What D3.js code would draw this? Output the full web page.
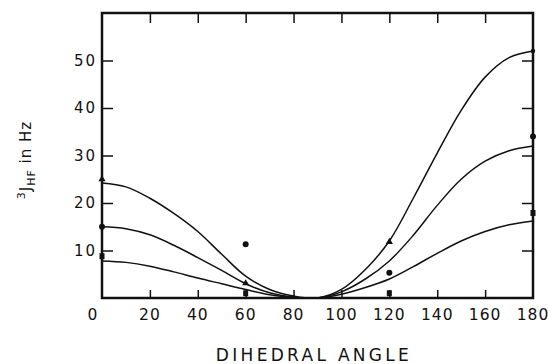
<!DOCTYPE html>
<html>
<head>
<meta charset="utf-8">
<script src="https://cdn.jsdelivr.net/npm/d3@7"></script>
<style>
  body { margin: 0; background: #fff; }
  text { font-family: "DejaVu Sans", sans-serif; fill: #111; }
</style>
</head>
<body>
<div id="chart"></div>
<script>
// angles the curves were read at
let angles = [0, 10, 20, 30, 40, 50, 60, 70, 80, 90, 100, 110, 120, 130, 140, 150, 160, 170, 180];

// three curves (Hz)
let curveTop    = [24.2, 23.4, 21.0, 17.8, 14.0, 9.2, 4.6, 1.8, 0.4, 0, 1.8, 6.0, 12.0, 21.0, 30.5, 39.5, 46.5, 50.6, 52.0];
let curveMiddle = [15.0, 14.6, 13.3, 11.1, 8.5, 5.8, 3.0, 1.1, 0.2, 0, 1.3, 4.0, 7.8, 13.2, 19.5, 25.0, 28.8, 31.0, 32.0];
let curveBottom = [7.8, 7.5, 6.7, 5.5, 4.2, 3.0, 1.8, 0.7, 0.15, 0, 0.8, 2.2, 4.0, 6.6, 9.4, 12.0, 14.0, 15.4, 16.2];

// measured points
let pointAngles = [0, 60, 120, 180];
let triangleVals = [25.0, 3.1, 11.8, 52.0];
let circleVals = [15.0, 11.3, 5.3, 34.0];
let squareVals = [8.8, 1.0, 1.0, 17.9];

let xTicks = [0, 20, 40, 60, 80, 100, 120, 140, 160, 180];
let yTicks = [10, 20, 30, 40, 50];

let svgWidth = 548;
let svgHeight = 364;
let margin = { top: 13, right: 15, bottom: 66, left: 102 };
let width = svgWidth - margin.left - margin.right;
let height = svgHeight - margin.top - margin.bottom;

let svg = d3.select("#chart").append("svg")
  .attr("width", svgWidth)
  .attr("height", svgHeight);

let g = svg.append("g")
  .attr("transform", `translate(${margin.left}, ${margin.top})`);

let x = d3.scaleLinear().domain([0, 180]).range([0, width]);
let y = d3.scaleLinear().domain([0, 60]).range([height, 0]);

// inner ticks on all four sides
let inner = xTicks.filter(d => d > 0 && d < 180);
g.append("g").call(d3.axisBottom(x).tickValues(inner).tickSize(-8).tickFormat(""))
  .attr("transform", `translate(0, ${height})`);
g.append("g").call(d3.axisTop(x).tickValues(inner).tickSize(-10).tickFormat(""));
g.append("g").call(d3.axisLeft(y).tickValues(yTicks).tickSize(-11).tickFormat(""));
g.append("g").call(d3.axisRight(y).tickValues(yTicks).tickSize(-11).tickFormat(""))
  .attr("transform", `translate(${width}, 0)`);
g.selectAll(".domain").remove();
g.selectAll(".tick line").attr("stroke", "#111").attr("stroke-width", 1.5);

// frame
g.append("rect")
  .attr("width", width)
  .attr("height", height)
  .attr("fill", "none")
  .attr("stroke", "#111")
  .attr("stroke-width", 2.5);

// tick labels
g.selectAll(".xlab")
  .data(xTicks)
  .enter().append("text")
  .attr("x", d => x(d) + (d === 0 ? -9 : 0))
  .attr("y", height + 22)
  .attr("text-anchor", "middle")
  .attr("font-size", "15.5px")
  .attr("letter-spacing", "1px")
  .text(d => d);

g.selectAll(".ylab")
  .data(yTicks)
  .enter().append("text")
  .attr("x", -5)
  .attr("y", d => y(d) + 5)
  .attr("text-anchor", "end")
  .attr("font-size", "15px")
  .attr("letter-spacing", "2px")
  .text(d => d);

// curves
let line = d3.line()
  .x((d, i) => x(angles[i]))
  .y(d => y(d))
  .curve(d3.curveCatmullRom.alpha(0.5));

[curveTop, curveMiddle, curveBottom].forEach(function(vals) {
  g.append("path")
    .datum(vals)
    .attr("d", line)
    .attr("fill", "none")
    .attr("stroke", "#111")
    .attr("stroke-width", 1.5);
});

// markers
g.selectAll(".tri")
  .data(triangleVals.slice(0, 3))
  .enter().append("path")
  .attr("d", d3.symbol(d3.symbolTriangle, 22))
  .attr("transform", (d, i) => `translate(${x(pointAngles[i])}, ${y(d)})`)
  .attr("fill", "#111");

g.append("circle")
  .attr("cx", x(pointAngles[3]))
  .attr("cy", y(triangleVals[3]))
  .attr("r", 2.2)
  .attr("fill", "#111");

g.selectAll(".dot")
  .data(circleVals)
  .enter().append("circle")
  .attr("cx", (d, i) => x(pointAngles[i]))
  .attr("cy", d => y(d))
  .attr("r", 3)
  .attr("fill", "#111");

g.selectAll(".sq")
  .data(squareVals)
  .enter().append("rect")
  .attr("x", (d, i) => x(pointAngles[i]) - 2.5)
  .attr("y", d => y(d) - 3)
  .attr("width", 5)
  .attr("height", 6)
  .attr("fill", "#111");

// axis titles
let yTitle = svg.append("text")
  .attr("transform", "translate(31, 160) rotate(-90)")
  .attr("text-anchor", "middle")
  .attr("font-size", "15px")
  .attr("letter-spacing", "1px");
yTitle.append("tspan").attr("font-size", "11px").attr("dy", "-6").text("3");
yTitle.append("tspan").attr("dy", "6").text("J");
yTitle.append("tspan").attr("font-size", "11px").attr("dy", "4").text("HF");
yTitle.append("tspan").attr("dy", "-4").text(" in Hz");

svg.append("text")
  .attr("x", 314)
  .attr("y", 361)
  .attr("text-anchor", "middle")
  .attr("font-size", "17px")
  .attr("letter-spacing", "3.3px")
  .text("DIHEDRAL ANGLE");
</script>
</body>
</html>
